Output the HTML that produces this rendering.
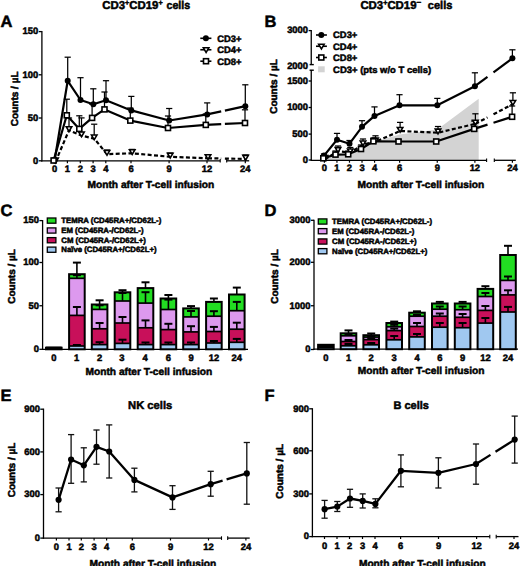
<!DOCTYPE html>
<html><head><meta charset="utf-8"><title>Figure</title>
<style>html,body{margin:0;padding:0;background:#fff;width:520px;height:566px;overflow:hidden}</style>
</head><body>
<svg width="520" height="566" viewBox="0 0 520 566" style="display:block">
<g font-family='"Liberation Sans", sans-serif' font-weight="bold" fill="#000">
<style>text{stroke:#000;stroke-width:0.5px;paint-order:stroke;text-rendering:geometricPrecision}</style>
<text x="0.50" y="27.00" font-size="16.5" text-anchor="start" >A</text>
<text x="102.3" y="8.9" font-size="11.4">CD3<tspan font-size="7.2" dy="-3.6">+</tspan><tspan dy="3.6">CD19</tspan><tspan font-size="7.2" dy="-3.6">+</tspan></text>
<text x="166.5" y="8.9" font-size="11.4" textLength="23.7" lengthAdjust="spacingAndGlyphs">cells</text>
<text x="0" y="0" font-size="10" text-anchor="middle" transform="translate(18.40,98.80) rotate(-90)">Counts / µL</text>
<line x1="41.90" y1="31.00" x2="41.90" y2="161.40" stroke="#000" stroke-width="1.3" />
<line x1="38.70" y1="31.60" x2="41.90" y2="31.60" stroke="#000" stroke-width="1.3" />
<text x="38.20" y="34.40" font-size="9.4" text-anchor="end" >150</text>
<line x1="38.70" y1="74.80" x2="41.90" y2="74.80" stroke="#000" stroke-width="1.3" />
<text x="38.20" y="77.60" font-size="9.4" text-anchor="end" >100</text>
<line x1="38.70" y1="118.00" x2="41.90" y2="118.00" stroke="#000" stroke-width="1.3" />
<text x="38.20" y="120.80" font-size="9.4" text-anchor="end" >50</text>
<line x1="38.70" y1="160.80" x2="41.90" y2="160.80" stroke="#000" stroke-width="1.3" />
<text x="38.20" y="163.60" font-size="9.4" text-anchor="end" >0</text>
<line x1="41.20" y1="160.80" x2="220.20" y2="160.80" stroke="#000" stroke-width="1.3" />
<line x1="226.70" y1="160.80" x2="249.20" y2="160.80" stroke="#000" stroke-width="1.3" />
<line x1="220.20" y1="159.00" x2="220.20" y2="162.60" stroke="#000" stroke-width="1.1" />
<line x1="226.70" y1="159.00" x2="226.70" y2="162.60" stroke="#000" stroke-width="1.1" />
<line x1="54.60" y1="160.80" x2="54.60" y2="163.20" stroke="#000" stroke-width="1.2" />
<text x="54.60" y="172.10" font-size="9.4" text-anchor="middle" >0</text>
<line x1="67.40" y1="160.80" x2="67.40" y2="163.20" stroke="#000" stroke-width="1.2" />
<text x="67.40" y="172.10" font-size="9.4" text-anchor="middle" >1</text>
<line x1="80.30" y1="160.80" x2="80.30" y2="163.20" stroke="#000" stroke-width="1.2" />
<text x="80.30" y="172.10" font-size="9.4" text-anchor="middle" >2</text>
<line x1="93.10" y1="160.80" x2="93.10" y2="163.20" stroke="#000" stroke-width="1.2" />
<text x="93.10" y="172.10" font-size="9.4" text-anchor="middle" >3</text>
<line x1="105.80" y1="160.80" x2="105.80" y2="163.20" stroke="#000" stroke-width="1.2" />
<text x="105.80" y="172.10" font-size="9.4" text-anchor="middle" >4</text>
<line x1="131.00" y1="160.80" x2="131.00" y2="163.20" stroke="#000" stroke-width="1.2" />
<text x="131.00" y="172.10" font-size="9.4" text-anchor="middle" >6</text>
<line x1="169.10" y1="160.80" x2="169.10" y2="163.20" stroke="#000" stroke-width="1.2" />
<text x="169.10" y="172.10" font-size="9.4" text-anchor="middle" >9</text>
<line x1="207.00" y1="160.80" x2="207.00" y2="163.20" stroke="#000" stroke-width="1.2" />
<text x="207.00" y="172.10" font-size="9.4" text-anchor="middle" >12</text>
<line x1="245.30" y1="160.80" x2="245.30" y2="163.20" stroke="#000" stroke-width="1.2" />
<text x="245.30" y="172.10" font-size="9.4" text-anchor="middle" >24</text>
<text x="150.90" y="187.90" font-size="10.2" text-anchor="middle" >Month after T-cell infusion</text>
<line x1="200.30" y1="38.30" x2="211.40" y2="38.30" stroke="#000" stroke-width="1.6" />
<circle cx="205.90" cy="38.30" r="3.0" fill="#000"/>
<text x="217.20" y="41.70" font-size="9.4" text-anchor="start" >CD3+</text>
<line x1="200.30" y1="49.75" x2="211.40" y2="49.75" stroke="#000" stroke-width="1.6" />
<polygon points="203.35,47.78 208.85,47.78 206.10,52.52" fill="#fff" stroke="#000" stroke-width="1.6" stroke-linejoin="miter"/>
<text x="217.20" y="53.15" font-size="9.4" text-anchor="start" >CD4+</text>
<line x1="200.30" y1="61.20" x2="211.40" y2="61.20" stroke="#000" stroke-width="1.6" />
<rect x="203.50" y="58.70" width="5.0" height="5.0" fill="#fff" stroke="#000" stroke-width="1.6"/>
<text x="217.20" y="64.60" font-size="9.4" text-anchor="start" >CD8+</text>
<line x1="67.70" y1="57.20" x2="67.70" y2="80.80" stroke="#000" stroke-width="1.25" />
<line x1="64.60" y1="57.20" x2="70.80" y2="57.20" stroke="#000" stroke-width="1.25" />
<line x1="80.50" y1="77.70" x2="80.50" y2="100.00" stroke="#000" stroke-width="1.25" />
<line x1="77.40" y1="77.70" x2="83.60" y2="77.70" stroke="#000" stroke-width="1.25" />
<line x1="93.30" y1="88.80" x2="93.30" y2="104.20" stroke="#000" stroke-width="1.25" />
<line x1="90.20" y1="88.80" x2="96.40" y2="88.80" stroke="#000" stroke-width="1.25" />
<line x1="106.00" y1="80.70" x2="106.00" y2="100.20" stroke="#000" stroke-width="1.25" />
<line x1="102.90" y1="80.70" x2="109.10" y2="80.70" stroke="#000" stroke-width="1.25" />
<line x1="131.30" y1="96.40" x2="131.30" y2="110.40" stroke="#000" stroke-width="1.25" />
<line x1="128.20" y1="96.40" x2="134.40" y2="96.40" stroke="#000" stroke-width="1.25" />
<line x1="169.20" y1="108.50" x2="169.20" y2="120.50" stroke="#000" stroke-width="1.25" />
<line x1="166.10" y1="108.50" x2="172.30" y2="108.50" stroke="#000" stroke-width="1.25" />
<line x1="207.20" y1="102.90" x2="207.20" y2="114.40" stroke="#000" stroke-width="1.25" />
<line x1="204.10" y1="102.90" x2="210.30" y2="102.90" stroke="#000" stroke-width="1.25" />
<line x1="245.30" y1="84.80" x2="245.30" y2="106.20" stroke="#000" stroke-width="1.25" />
<line x1="242.20" y1="84.80" x2="248.40" y2="84.80" stroke="#000" stroke-width="1.25" />
<line x1="66.80" y1="99.20" x2="66.80" y2="115.30" stroke="#000" stroke-width="1.25" />
<line x1="63.70" y1="99.20" x2="69.90" y2="99.20" stroke="#000" stroke-width="1.25" />
<line x1="79.30" y1="115.80" x2="79.30" y2="128.90" stroke="#000" stroke-width="1.25" />
<line x1="76.20" y1="115.80" x2="82.40" y2="115.80" stroke="#000" stroke-width="1.25" />
<line x1="92.10" y1="104.00" x2="92.10" y2="117.90" stroke="#000" stroke-width="1.25" />
<line x1="89.00" y1="104.00" x2="95.20" y2="104.00" stroke="#000" stroke-width="1.25" />
<line x1="104.50" y1="92.00" x2="104.50" y2="109.40" stroke="#000" stroke-width="1.25" />
<line x1="101.40" y1="92.00" x2="107.60" y2="92.00" stroke="#000" stroke-width="1.25" />
<line x1="130.30" y1="108.00" x2="130.30" y2="120.60" stroke="#000" stroke-width="1.25" />
<line x1="127.20" y1="108.00" x2="133.40" y2="108.00" stroke="#000" stroke-width="1.25" />
<line x1="168.00" y1="116.00" x2="168.00" y2="128.00" stroke="#000" stroke-width="1.25" />
<line x1="164.90" y1="116.00" x2="171.10" y2="116.00" stroke="#000" stroke-width="1.25" />
<line x1="205.80" y1="114.00" x2="205.80" y2="124.90" stroke="#000" stroke-width="1.25" />
<line x1="202.70" y1="114.00" x2="208.90" y2="114.00" stroke="#000" stroke-width="1.25" />
<line x1="245.00" y1="109.80" x2="245.00" y2="123.00" stroke="#000" stroke-width="1.25" />
<line x1="241.90" y1="109.80" x2="248.10" y2="109.80" stroke="#000" stroke-width="1.25" />
<line x1="69.00" y1="118.00" x2="69.00" y2="129.10" stroke="#000" stroke-width="1.25" />
<line x1="65.90" y1="118.00" x2="72.10" y2="118.00" stroke="#000" stroke-width="1.25" />
<line x1="81.50" y1="117.90" x2="81.50" y2="134.40" stroke="#000" stroke-width="1.25" />
<line x1="78.40" y1="117.90" x2="84.60" y2="117.90" stroke="#000" stroke-width="1.25" />
<line x1="94.20" y1="124.20" x2="94.20" y2="137.40" stroke="#000" stroke-width="1.25" />
<line x1="91.10" y1="124.20" x2="97.30" y2="124.20" stroke="#000" stroke-width="1.25" />
<line x1="107.00" y1="150.00" x2="107.00" y2="152.90" stroke="#000" stroke-width="1.25" />
<line x1="103.90" y1="150.00" x2="110.10" y2="150.00" stroke="#000" stroke-width="1.25" />
<line x1="132.20" y1="149.40" x2="132.20" y2="152.10" stroke="#000" stroke-width="1.25" />
<line x1="129.10" y1="149.40" x2="135.30" y2="149.40" stroke="#000" stroke-width="1.25" />
<line x1="170.20" y1="153.00" x2="170.20" y2="155.60" stroke="#000" stroke-width="1.25" />
<line x1="167.10" y1="153.00" x2="173.30" y2="153.00" stroke="#000" stroke-width="1.25" />
<line x1="208.00" y1="155.00" x2="208.00" y2="157.10" stroke="#000" stroke-width="1.25" />
<line x1="204.90" y1="155.00" x2="211.10" y2="155.00" stroke="#000" stroke-width="1.25" />
<line x1="245.60" y1="155.00" x2="245.60" y2="157.70" stroke="#000" stroke-width="1.25" />
<line x1="242.50" y1="155.00" x2="248.70" y2="155.00" stroke="#000" stroke-width="1.25" />
<polyline points="54.60,160.50 67.70,80.80 80.50,100.00 93.30,104.20 106.00,100.20 131.30,110.40 169.20,120.50 207.20,114.40" fill="none" stroke="#000" stroke-width="2.2" stroke-linejoin="round" />
<polyline points="207.20,114.40 221.20,111.39" fill="none" stroke="#000" stroke-width="2.2" stroke-linejoin="round" />
<polyline points="224.90,110.59 245.30,106.20" fill="none" stroke="#000" stroke-width="2.2" stroke-linejoin="round" />
<polyline points="53.60,160.50 66.80,115.30 79.30,128.90 92.10,117.90 104.50,109.40 130.30,120.60 168.00,128.00 205.80,124.90" fill="none" stroke="#000" stroke-width="2.2" stroke-linejoin="round" />
<polyline points="205.80,124.90 221.20,124.15" fill="none" stroke="#000" stroke-width="2.2" stroke-linejoin="round" />
<polyline points="224.90,123.97 245.00,123.00" fill="none" stroke="#000" stroke-width="2.2" stroke-linejoin="round" />
<polyline points="55.50,161.70 69.00,130.30 81.50,135.60 94.20,138.60 107.00,154.10 132.20,153.30 170.20,156.80 208.00,158.30" fill="none" stroke="#000" stroke-width="2.2" stroke-linejoin="round" stroke-dasharray="4,2.4"/>
<polyline points="208.00,158.30 221.20,158.51" fill="none" stroke="#000" stroke-width="2.2" stroke-linejoin="round" stroke-dasharray="4,2.4"/>
<polyline points="224.90,158.57 245.60,158.90" fill="none" stroke="#000" stroke-width="2.2" stroke-linejoin="round" stroke-dasharray="4,2.4"/>
<polygon points="52.75,158.13 58.25,158.13 55.50,162.87" fill="#fff" stroke="#000" stroke-width="1.6" stroke-linejoin="miter"/>
<polygon points="66.25,126.73 71.75,126.73 69.00,131.47" fill="#fff" stroke="#000" stroke-width="1.6" stroke-linejoin="miter"/>
<polygon points="78.75,132.03 84.25,132.03 81.50,136.77" fill="#fff" stroke="#000" stroke-width="1.6" stroke-linejoin="miter"/>
<polygon points="91.45,135.03 96.95,135.03 94.20,139.77" fill="#fff" stroke="#000" stroke-width="1.6" stroke-linejoin="miter"/>
<polygon points="104.25,150.53 109.75,150.53 107.00,155.27" fill="#fff" stroke="#000" stroke-width="1.6" stroke-linejoin="miter"/>
<polygon points="129.45,149.73 134.95,149.73 132.20,154.47" fill="#fff" stroke="#000" stroke-width="1.6" stroke-linejoin="miter"/>
<polygon points="167.45,153.23 172.95,153.23 170.20,157.97" fill="#fff" stroke="#000" stroke-width="1.6" stroke-linejoin="miter"/>
<polygon points="205.25,154.73 210.75,154.73 208.00,159.47" fill="#fff" stroke="#000" stroke-width="1.6" stroke-linejoin="miter"/>
<polygon points="242.85,155.33 248.35,155.33 245.60,160.06" fill="#fff" stroke="#000" stroke-width="1.6" stroke-linejoin="miter"/>
<circle cx="54.60" cy="160.50" r="3.0" fill="#000"/>
<circle cx="67.70" cy="80.80" r="3.0" fill="#000"/>
<circle cx="80.50" cy="100.00" r="3.0" fill="#000"/>
<circle cx="93.30" cy="104.20" r="3.0" fill="#000"/>
<circle cx="106.00" cy="100.20" r="3.0" fill="#000"/>
<circle cx="131.30" cy="110.40" r="3.0" fill="#000"/>
<circle cx="169.20" cy="120.50" r="3.0" fill="#000"/>
<circle cx="207.20" cy="114.40" r="3.0" fill="#000"/>
<circle cx="245.30" cy="106.20" r="3.0" fill="#000"/>
<rect x="51.10" y="158.00" width="5.0" height="5.0" fill="#fff" stroke="#000" stroke-width="1.6"/>
<rect x="64.30" y="112.80" width="5.0" height="5.0" fill="#fff" stroke="#000" stroke-width="1.6"/>
<rect x="76.80" y="126.40" width="5.0" height="5.0" fill="#fff" stroke="#000" stroke-width="1.6"/>
<rect x="89.60" y="115.40" width="5.0" height="5.0" fill="#fff" stroke="#000" stroke-width="1.6"/>
<rect x="102.00" y="106.90" width="5.0" height="5.0" fill="#fff" stroke="#000" stroke-width="1.6"/>
<rect x="127.80" y="118.10" width="5.0" height="5.0" fill="#fff" stroke="#000" stroke-width="1.6"/>
<rect x="165.50" y="125.50" width="5.0" height="5.0" fill="#fff" stroke="#000" stroke-width="1.6"/>
<rect x="203.30" y="122.40" width="5.0" height="5.0" fill="#fff" stroke="#000" stroke-width="1.6"/>
<rect x="242.50" y="120.50" width="5.0" height="5.0" fill="#fff" stroke="#000" stroke-width="1.6"/>
<text x="264.50" y="27.00" font-size="16.5" text-anchor="start" >B</text>
<text x="360.4" y="8.9" font-size="11.4">CD3<tspan font-size="7.2" dy="-3.6">+</tspan><tspan dy="3.6">CD19</tspan><tspan font-size="8" dy="-3.6">−</tspan></text>
<text x="427.8" y="8.9" font-size="11.4" textLength="24.6" lengthAdjust="spacingAndGlyphs">cells</text>
<text x="0" y="0" font-size="10" text-anchor="middle" transform="translate(277.30,86.50) rotate(-90)">Counts / µL</text>
<line x1="311.25" y1="30.00" x2="311.25" y2="64.80" stroke="#000" stroke-width="1.3" />
<line x1="311.25" y1="70.00" x2="311.25" y2="160.60" stroke="#000" stroke-width="1.3" />
<line x1="309.60" y1="64.60" x2="313.80" y2="64.60" stroke="#000" stroke-width="1.4" />
<line x1="309.60" y1="70.20" x2="313.80" y2="70.20" stroke="#000" stroke-width="1.4" />
<line x1="308.65" y1="30.60" x2="311.25" y2="30.60" stroke="#000" stroke-width="1.3" />
<text x="308.00" y="33.40" font-size="9.4" text-anchor="end" >3000</text>
<text x="308.00" y="68.60" font-size="9.4" text-anchor="end" >2000</text>
<line x1="308.65" y1="81.00" x2="311.25" y2="81.00" stroke="#000" stroke-width="1.3" />
<text x="308.00" y="83.80" font-size="9.4" text-anchor="end" >1500</text>
<line x1="308.65" y1="107.50" x2="311.25" y2="107.50" stroke="#000" stroke-width="1.3" />
<text x="308.00" y="110.30" font-size="9.4" text-anchor="end" >1000</text>
<line x1="308.65" y1="134.10" x2="311.25" y2="134.10" stroke="#000" stroke-width="1.3" />
<text x="308.00" y="136.90" font-size="9.4" text-anchor="end" >500</text>
<line x1="308.65" y1="160.00" x2="311.25" y2="160.00" stroke="#000" stroke-width="1.3" />
<text x="308.00" y="162.80" font-size="9.4" text-anchor="end" >0</text>
<polygon points="323.4,160.3 337,154.6 349.5,155 362,148.5 374.5,142 399.5,134.6 437.3,129.5 478.7,98.7 478.7,160.3" fill="#d3d3d3"/>
<line x1="310.60" y1="160.30" x2="486.60" y2="160.30" stroke="#000" stroke-width="1.3" />
<line x1="494.30" y1="160.30" x2="515.80" y2="160.30" stroke="#000" stroke-width="1.3" />
<line x1="486.60" y1="158.50" x2="486.60" y2="162.10" stroke="#000" stroke-width="1.1" />
<line x1="494.30" y1="158.50" x2="494.30" y2="162.10" stroke="#000" stroke-width="1.1" />
<line x1="324.40" y1="160.30" x2="324.40" y2="162.70" stroke="#000" stroke-width="1.2" />
<text x="324.40" y="171.40" font-size="9.4" text-anchor="middle" >0</text>
<line x1="336.94" y1="160.30" x2="336.94" y2="162.70" stroke="#000" stroke-width="1.2" />
<text x="336.94" y="171.40" font-size="9.4" text-anchor="middle" >1</text>
<line x1="349.48" y1="160.30" x2="349.48" y2="162.70" stroke="#000" stroke-width="1.2" />
<text x="349.48" y="171.40" font-size="9.4" text-anchor="middle" >2</text>
<line x1="362.02" y1="160.30" x2="362.02" y2="162.70" stroke="#000" stroke-width="1.2" />
<text x="362.02" y="171.40" font-size="9.4" text-anchor="middle" >3</text>
<line x1="374.56" y1="160.30" x2="374.56" y2="162.70" stroke="#000" stroke-width="1.2" />
<text x="374.56" y="171.40" font-size="9.4" text-anchor="middle" >4</text>
<line x1="399.64" y1="160.30" x2="399.64" y2="162.70" stroke="#000" stroke-width="1.2" />
<text x="399.64" y="171.40" font-size="9.4" text-anchor="middle" >6</text>
<line x1="437.26" y1="160.30" x2="437.26" y2="162.70" stroke="#000" stroke-width="1.2" />
<text x="437.26" y="171.40" font-size="9.4" text-anchor="middle" >9</text>
<line x1="474.88" y1="160.30" x2="474.88" y2="162.70" stroke="#000" stroke-width="1.2" />
<text x="474.88" y="171.40" font-size="9.4" text-anchor="middle" >12</text>
<line x1="512.40" y1="160.30" x2="512.40" y2="162.70" stroke="#000" stroke-width="1.2" />
<text x="512.40" y="171.40" font-size="9.4" text-anchor="middle" >24</text>
<text x="420.90" y="187.90" font-size="10.2" text-anchor="middle" >Month after T-cell infusion</text>
<line x1="316.00" y1="35.00" x2="326.90" y2="35.00" stroke="#000" stroke-width="1.6" />
<circle cx="321.30" cy="35.00" r="3.0" fill="#000"/>
<text x="333.10" y="38.40" font-size="9.4" text-anchor="start" >CD3+</text>
<line x1="316.00" y1="46.25" x2="326.90" y2="46.25" stroke="#000" stroke-width="1.6" />
<polygon points="318.65,44.28 324.15,44.28 321.40,49.02" fill="#fff" stroke="#000" stroke-width="1.6" stroke-linejoin="miter"/>
<text x="333.10" y="49.65" font-size="9.4" text-anchor="start" >CD4+</text>
<line x1="316.00" y1="57.50" x2="326.90" y2="57.50" stroke="#000" stroke-width="1.6" />
<rect x="318.80" y="55.00" width="5.0" height="5.0" fill="#fff" stroke="#000" stroke-width="1.6"/>
<text x="333.10" y="60.90" font-size="9.4" text-anchor="start" >CD8+</text>
<rect x="318.1" y="66.3" width="6.6" height="6" fill="#d3d3d3"/>
<text x="333.1" y="72.9" font-size="9.3" textLength="98" lengthAdjust="spacingAndGlyphs">CD3+ (pts w/o T cells)</text>
<line x1="324.00" y1="154.00" x2="324.00" y2="155.60" stroke="#000" stroke-width="1.25" />
<line x1="320.90" y1="154.00" x2="327.10" y2="154.00" stroke="#000" stroke-width="1.25" />
<line x1="337.00" y1="133.40" x2="337.00" y2="139.70" stroke="#000" stroke-width="1.25" />
<line x1="333.90" y1="133.40" x2="340.10" y2="133.40" stroke="#000" stroke-width="1.25" />
<line x1="349.50" y1="140.50" x2="349.50" y2="143.70" stroke="#000" stroke-width="1.25" />
<line x1="346.40" y1="140.50" x2="352.60" y2="140.50" stroke="#000" stroke-width="1.25" />
<line x1="362.00" y1="120.70" x2="362.00" y2="126.80" stroke="#000" stroke-width="1.25" />
<line x1="358.90" y1="120.70" x2="365.10" y2="120.70" stroke="#000" stroke-width="1.25" />
<line x1="374.50" y1="106.90" x2="374.50" y2="115.90" stroke="#000" stroke-width="1.25" />
<line x1="371.40" y1="106.90" x2="377.60" y2="106.90" stroke="#000" stroke-width="1.25" />
<line x1="399.50" y1="94.70" x2="399.50" y2="105.30" stroke="#000" stroke-width="1.25" />
<line x1="396.40" y1="94.70" x2="402.60" y2="94.70" stroke="#000" stroke-width="1.25" />
<line x1="437.30" y1="98.40" x2="437.30" y2="105.30" stroke="#000" stroke-width="1.25" />
<line x1="434.20" y1="98.40" x2="440.40" y2="98.40" stroke="#000" stroke-width="1.25" />
<line x1="474.90" y1="72.80" x2="474.90" y2="86.20" stroke="#000" stroke-width="1.25" />
<line x1="471.80" y1="72.80" x2="478.00" y2="72.80" stroke="#000" stroke-width="1.25" />
<line x1="512.40" y1="49.80" x2="512.40" y2="58.30" stroke="#000" stroke-width="1.25" />
<line x1="509.30" y1="49.80" x2="515.50" y2="49.80" stroke="#000" stroke-width="1.25" />
<line x1="323.30" y1="157.00" x2="323.30" y2="158.30" stroke="#000" stroke-width="1.25" />
<line x1="320.20" y1="157.00" x2="326.40" y2="157.00" stroke="#000" stroke-width="1.25" />
<line x1="335.50" y1="151.00" x2="335.50" y2="154.60" stroke="#000" stroke-width="1.25" />
<line x1="332.40" y1="151.00" x2="338.60" y2="151.00" stroke="#000" stroke-width="1.25" />
<line x1="348.20" y1="151.00" x2="348.20" y2="154.30" stroke="#000" stroke-width="1.25" />
<line x1="345.10" y1="151.00" x2="351.30" y2="151.00" stroke="#000" stroke-width="1.25" />
<line x1="361.00" y1="145.00" x2="361.00" y2="149.00" stroke="#000" stroke-width="1.25" />
<line x1="357.90" y1="145.00" x2="364.10" y2="145.00" stroke="#000" stroke-width="1.25" />
<line x1="373.40" y1="138.00" x2="373.40" y2="141.30" stroke="#000" stroke-width="1.25" />
<line x1="370.30" y1="138.00" x2="376.50" y2="138.00" stroke="#000" stroke-width="1.25" />
<line x1="398.50" y1="139.50" x2="398.50" y2="141.50" stroke="#000" stroke-width="1.25" />
<line x1="395.40" y1="139.50" x2="401.60" y2="139.50" stroke="#000" stroke-width="1.25" />
<line x1="436.20" y1="139.50" x2="436.20" y2="141.50" stroke="#000" stroke-width="1.25" />
<line x1="433.10" y1="139.50" x2="439.30" y2="139.50" stroke="#000" stroke-width="1.25" />
<line x1="474.20" y1="121.00" x2="474.20" y2="128.90" stroke="#000" stroke-width="1.25" />
<line x1="471.10" y1="121.00" x2="477.30" y2="121.00" stroke="#000" stroke-width="1.25" />
<line x1="512.10" y1="106.00" x2="512.10" y2="116.80" stroke="#000" stroke-width="1.25" />
<line x1="509.00" y1="106.00" x2="515.20" y2="106.00" stroke="#000" stroke-width="1.25" />
<line x1="325.00" y1="156.00" x2="325.00" y2="158.00" stroke="#000" stroke-width="1.25" />
<line x1="321.90" y1="156.00" x2="328.10" y2="156.00" stroke="#000" stroke-width="1.25" />
<line x1="338.00" y1="146.00" x2="338.00" y2="150.00" stroke="#000" stroke-width="1.25" />
<line x1="334.90" y1="146.00" x2="341.10" y2="146.00" stroke="#000" stroke-width="1.25" />
<line x1="350.30" y1="147.50" x2="350.30" y2="151.30" stroke="#000" stroke-width="1.25" />
<line x1="347.20" y1="147.50" x2="353.40" y2="147.50" stroke="#000" stroke-width="1.25" />
<line x1="363.00" y1="139.00" x2="363.00" y2="143.40" stroke="#000" stroke-width="1.25" />
<line x1="359.90" y1="139.00" x2="366.10" y2="139.00" stroke="#000" stroke-width="1.25" />
<line x1="375.50" y1="135.80" x2="375.50" y2="140.50" stroke="#000" stroke-width="1.25" />
<line x1="372.40" y1="135.80" x2="378.60" y2="135.80" stroke="#000" stroke-width="1.25" />
<line x1="400.10" y1="122.40" x2="400.10" y2="129.80" stroke="#000" stroke-width="1.25" />
<line x1="397.00" y1="122.40" x2="403.20" y2="122.40" stroke="#000" stroke-width="1.25" />
<line x1="438.00" y1="126.50" x2="438.00" y2="131.50" stroke="#000" stroke-width="1.25" />
<line x1="434.90" y1="126.50" x2="441.10" y2="126.50" stroke="#000" stroke-width="1.25" />
<line x1="475.40" y1="113.80" x2="475.40" y2="122.60" stroke="#000" stroke-width="1.25" />
<line x1="472.30" y1="113.80" x2="478.50" y2="113.80" stroke="#000" stroke-width="1.25" />
<line x1="512.90" y1="92.80" x2="512.90" y2="102.90" stroke="#000" stroke-width="1.25" />
<line x1="509.80" y1="92.80" x2="516.00" y2="92.80" stroke="#000" stroke-width="1.25" />
<polyline points="324.00,155.60 337.00,139.70 349.50,143.70 362.00,126.80 374.50,115.90 399.50,105.30 437.30,105.30 474.90,86.20" fill="none" stroke="#000" stroke-width="2.2" stroke-linejoin="round" />
<polyline points="474.90,86.20 487.50,76.83" fill="none" stroke="#000" stroke-width="2.2" stroke-linejoin="round" />
<polyline points="493.50,72.36 512.40,58.30" fill="none" stroke="#000" stroke-width="2.2" stroke-linejoin="round" />
<polyline points="323.30,158.30 335.50,154.60 348.20,154.30 361.00,149.00 373.40,141.30 398.50,141.50 436.20,141.50 474.20,128.90" fill="none" stroke="#000" stroke-width="2.2" stroke-linejoin="round" />
<polyline points="474.20,128.90 487.50,124.65" fill="none" stroke="#000" stroke-width="2.2" stroke-linejoin="round" />
<polyline points="493.50,122.74 512.10,116.80" fill="none" stroke="#000" stroke-width="2.2" stroke-linejoin="round" />
<polyline points="325.00,159.20 338.00,151.20 350.30,152.50 363.00,144.60 375.50,141.70 400.10,131.00 438.00,132.70 475.40,123.80" fill="none" stroke="#000" stroke-width="2.2" stroke-linejoin="round" stroke-dasharray="4,2.4"/>
<polyline points="475.40,123.80 487.50,117.44" fill="none" stroke="#000" stroke-width="2.2" stroke-linejoin="round" stroke-dasharray="4,2.4"/>
<polyline points="493.50,114.29 512.90,104.10" fill="none" stroke="#000" stroke-width="2.2" stroke-linejoin="round" stroke-dasharray="4,2.4"/>
<polygon points="322.25,155.63 327.75,155.63 325.00,160.37" fill="#fff" stroke="#000" stroke-width="1.6" stroke-linejoin="miter"/>
<polygon points="335.25,147.63 340.75,147.63 338.00,152.37" fill="#fff" stroke="#000" stroke-width="1.6" stroke-linejoin="miter"/>
<polygon points="347.55,148.94 353.05,148.94 350.30,153.67" fill="#fff" stroke="#000" stroke-width="1.6" stroke-linejoin="miter"/>
<polygon points="360.25,141.03 365.75,141.03 363.00,145.77" fill="#fff" stroke="#000" stroke-width="1.6" stroke-linejoin="miter"/>
<polygon points="372.75,138.13 378.25,138.13 375.50,142.87" fill="#fff" stroke="#000" stroke-width="1.6" stroke-linejoin="miter"/>
<polygon points="397.35,127.44 402.85,127.44 400.10,132.17" fill="#fff" stroke="#000" stroke-width="1.6" stroke-linejoin="miter"/>
<polygon points="435.25,129.13 440.75,129.13 438.00,133.87" fill="#fff" stroke="#000" stroke-width="1.6" stroke-linejoin="miter"/>
<polygon points="472.65,120.23 478.15,120.23 475.40,124.96" fill="#fff" stroke="#000" stroke-width="1.6" stroke-linejoin="miter"/>
<polygon points="510.15,100.54 515.65,100.54 512.90,105.27" fill="#fff" stroke="#000" stroke-width="1.6" stroke-linejoin="miter"/>
<circle cx="324.00" cy="155.60" r="3.0" fill="#000"/>
<circle cx="337.00" cy="139.70" r="3.0" fill="#000"/>
<circle cx="349.50" cy="143.70" r="3.0" fill="#000"/>
<circle cx="362.00" cy="126.80" r="3.0" fill="#000"/>
<circle cx="374.50" cy="115.90" r="3.0" fill="#000"/>
<circle cx="399.50" cy="105.30" r="3.0" fill="#000"/>
<circle cx="437.30" cy="105.30" r="3.0" fill="#000"/>
<circle cx="474.90" cy="86.20" r="3.0" fill="#000"/>
<circle cx="512.40" cy="58.30" r="3.0" fill="#000"/>
<rect x="320.80" y="155.80" width="5.0" height="5.0" fill="#fff" stroke="#000" stroke-width="1.6"/>
<rect x="333.00" y="152.10" width="5.0" height="5.0" fill="#fff" stroke="#000" stroke-width="1.6"/>
<rect x="345.70" y="151.80" width="5.0" height="5.0" fill="#fff" stroke="#000" stroke-width="1.6"/>
<rect x="358.50" y="146.50" width="5.0" height="5.0" fill="#fff" stroke="#000" stroke-width="1.6"/>
<rect x="370.90" y="138.80" width="5.0" height="5.0" fill="#fff" stroke="#000" stroke-width="1.6"/>
<rect x="396.00" y="139.00" width="5.0" height="5.0" fill="#fff" stroke="#000" stroke-width="1.6"/>
<rect x="433.70" y="139.00" width="5.0" height="5.0" fill="#fff" stroke="#000" stroke-width="1.6"/>
<rect x="471.70" y="126.40" width="5.0" height="5.0" fill="#fff" stroke="#000" stroke-width="1.6"/>
<rect x="509.60" y="114.30" width="5.0" height="5.0" fill="#fff" stroke="#000" stroke-width="1.6"/>
<text x="0.50" y="216.30" font-size="16.5" text-anchor="start" >C</text>
<text x="0" y="0" font-size="10" text-anchor="middle" transform="translate(15.30,276.40) rotate(-90)">Counts / µL</text>
<line x1="42.60" y1="220.00" x2="42.60" y2="349.90" stroke="#000" stroke-width="1.3" />
<line x1="39.40" y1="220.60" x2="42.60" y2="220.60" stroke="#000" stroke-width="1.3" />
<text x="39.00" y="223.40" font-size="9.4" text-anchor="end" >150</text>
<line x1="39.40" y1="262.50" x2="42.60" y2="262.50" stroke="#000" stroke-width="1.3" />
<text x="39.00" y="265.30" font-size="9.4" text-anchor="end" >100</text>
<line x1="39.40" y1="305.75" x2="42.60" y2="305.75" stroke="#000" stroke-width="1.3" />
<text x="39.00" y="308.55" font-size="9.4" text-anchor="end" >50</text>
<line x1="39.40" y1="349.30" x2="42.60" y2="349.30" stroke="#000" stroke-width="1.3" />
<text x="39.00" y="352.10" font-size="9.4" text-anchor="end" >0</text>
<line x1="42.00" y1="349.30" x2="248.00" y2="349.30" stroke="#000" stroke-width="1.3" />
<line x1="53.80" y1="349.30" x2="53.80" y2="349.31" stroke="#000" stroke-width="1.2" />
<text x="53.80" y="360.90" font-size="9.4" text-anchor="middle" >0</text>
<line x1="76.50" y1="349.30" x2="76.50" y2="349.31" stroke="#000" stroke-width="1.2" />
<text x="76.50" y="360.90" font-size="9.4" text-anchor="middle" >1</text>
<line x1="99.50" y1="349.30" x2="99.50" y2="349.31" stroke="#000" stroke-width="1.2" />
<text x="99.50" y="360.90" font-size="9.4" text-anchor="middle" >2</text>
<line x1="121.90" y1="349.30" x2="121.90" y2="349.31" stroke="#000" stroke-width="1.2" />
<text x="121.90" y="360.90" font-size="9.4" text-anchor="middle" >3</text>
<line x1="145.00" y1="349.30" x2="145.00" y2="349.31" stroke="#000" stroke-width="1.2" />
<text x="145.00" y="360.90" font-size="9.4" text-anchor="middle" >4</text>
<line x1="168.40" y1="349.30" x2="168.40" y2="349.31" stroke="#000" stroke-width="1.2" />
<text x="168.40" y="360.90" font-size="9.4" text-anchor="middle" >6</text>
<line x1="191.00" y1="349.30" x2="191.00" y2="349.31" stroke="#000" stroke-width="1.2" />
<text x="191.00" y="360.90" font-size="9.4" text-anchor="middle" >9</text>
<line x1="213.90" y1="349.30" x2="213.90" y2="349.31" stroke="#000" stroke-width="1.2" />
<text x="213.90" y="360.90" font-size="9.4" text-anchor="middle" >12</text>
<line x1="236.80" y1="349.30" x2="236.80" y2="349.31" stroke="#000" stroke-width="1.2" />
<text x="236.80" y="360.90" font-size="9.4" text-anchor="middle" >24</text>
<text x="148.90" y="375.00" font-size="10.2" text-anchor="middle" >Month after T-cell infusion</text>
<rect x="47.30" y="218.00" width="8.6" height="5.2" fill="#22dd22" stroke="#000" stroke-width="1.3"/>
<text x="61.25" y="222.90" font-size="7.8" text-anchor="start" >TEMRA (CD45RA+/CD62L-)</text>
<rect x="47.30" y="227.90" width="8.6" height="5.2" fill="#dd99ee" stroke="#000" stroke-width="1.3"/>
<text x="61.25" y="232.80" font-size="7.8" text-anchor="start" >EM (CD45RA-/CD62L-)</text>
<rect x="47.30" y="237.60" width="8.6" height="5.2" fill="#c8105a" stroke="#000" stroke-width="1.3"/>
<text x="61.25" y="242.50" font-size="7.8" text-anchor="start" >CM (CD45RA-/CD62L+)</text>
<rect x="47.30" y="247.10" width="8.6" height="5.2" fill="#a0c8f0" stroke="#000" stroke-width="1.3"/>
<text x="61.25" y="252.00" font-size="7.8" text-anchor="start" >Naïve (CD45RA+/CD62L+)</text>
<rect x="46.00" y="347.70" width="15.60" height="1.60" fill="#a0c8f0"/>
<line x1="46.00" y1="347.70" x2="61.60" y2="347.70" stroke="#000" stroke-width="1.7" />
<line x1="46.00" y1="347.70" x2="61.60" y2="347.70" stroke="#000" stroke-width="1.7" />
<line x1="46.00" y1="347.70" x2="61.60" y2="347.70" stroke="#000" stroke-width="1.7" />
<rect x="46.00" y="347.70" width="15.60" height="1.60" fill="none" stroke="#000" stroke-width="2"/>
<rect x="69.10" y="274.20" width="15.60" height="4.10" fill="#22dd22"/>
<rect x="69.10" y="278.30" width="15.60" height="37.10" fill="#dd99ee"/>
<rect x="69.10" y="315.40" width="15.60" height="30.60" fill="#c8105a"/>
<rect x="69.10" y="346.00" width="15.60" height="3.30" fill="#a0c8f0"/>
<line x1="69.10" y1="278.30" x2="84.70" y2="278.30" stroke="#000" stroke-width="1.7" />
<line x1="69.10" y1="315.40" x2="84.70" y2="315.40" stroke="#000" stroke-width="1.7" />
<line x1="69.10" y1="346.00" x2="84.70" y2="346.00" stroke="#000" stroke-width="1.7" />
<rect x="69.10" y="274.20" width="15.60" height="75.10" fill="none" stroke="#000" stroke-width="2"/>
<line x1="76.90" y1="262.60" x2="76.90" y2="274.20" stroke="#000" stroke-width="1.6" />
<line x1="72.90" y1="262.60" x2="80.90" y2="262.60" stroke="#000" stroke-width="2.0" />
<line x1="76.90" y1="275.20" x2="76.90" y2="278.30" stroke="#000" stroke-width="1.6" />
<line x1="72.90" y1="275.20" x2="80.90" y2="275.20" stroke="#000" stroke-width="2.0" />
<line x1="76.90" y1="307.00" x2="76.90" y2="315.40" stroke="#000" stroke-width="1.6" />
<line x1="72.90" y1="307.00" x2="80.90" y2="307.00" stroke="#000" stroke-width="2.0" />
<line x1="76.90" y1="345.00" x2="76.90" y2="346.00" stroke="#000" stroke-width="1.6" />
<line x1="72.90" y1="345.00" x2="80.90" y2="345.00" stroke="#000" stroke-width="2.0" />
<rect x="91.80" y="304.50" width="15.60" height="4.90" fill="#22dd22"/>
<rect x="91.80" y="309.40" width="15.60" height="19.40" fill="#dd99ee"/>
<rect x="91.80" y="328.80" width="15.60" height="15.80" fill="#c8105a"/>
<rect x="91.80" y="344.60" width="15.60" height="4.70" fill="#a0c8f0"/>
<line x1="91.80" y1="309.40" x2="107.40" y2="309.40" stroke="#000" stroke-width="1.7" />
<line x1="91.80" y1="328.80" x2="107.40" y2="328.80" stroke="#000" stroke-width="1.7" />
<line x1="91.80" y1="344.60" x2="107.40" y2="344.60" stroke="#000" stroke-width="1.7" />
<rect x="91.80" y="304.50" width="15.60" height="44.80" fill="none" stroke="#000" stroke-width="2"/>
<line x1="99.60" y1="300.30" x2="99.60" y2="304.50" stroke="#000" stroke-width="1.6" />
<line x1="95.60" y1="300.30" x2="103.60" y2="300.30" stroke="#000" stroke-width="2.0" />
<line x1="99.60" y1="305.30" x2="99.60" y2="309.40" stroke="#000" stroke-width="1.6" />
<line x1="95.60" y1="305.30" x2="103.60" y2="305.30" stroke="#000" stroke-width="2.0" />
<line x1="99.60" y1="323.00" x2="99.60" y2="328.80" stroke="#000" stroke-width="1.6" />
<line x1="95.60" y1="323.00" x2="103.60" y2="323.00" stroke="#000" stroke-width="2.0" />
<line x1="99.60" y1="342.20" x2="99.60" y2="344.60" stroke="#000" stroke-width="1.6" />
<line x1="95.60" y1="342.20" x2="103.60" y2="342.20" stroke="#000" stroke-width="2.0" />
<rect x="114.70" y="292.30" width="15.60" height="8.70" fill="#22dd22"/>
<rect x="114.70" y="301.00" width="15.60" height="22.00" fill="#dd99ee"/>
<rect x="114.70" y="323.00" width="15.60" height="20.40" fill="#c8105a"/>
<rect x="114.70" y="343.40" width="15.60" height="5.90" fill="#a0c8f0"/>
<line x1="114.70" y1="301.00" x2="130.30" y2="301.00" stroke="#000" stroke-width="1.7" />
<line x1="114.70" y1="323.00" x2="130.30" y2="323.00" stroke="#000" stroke-width="1.7" />
<line x1="114.70" y1="343.40" x2="130.30" y2="343.40" stroke="#000" stroke-width="1.7" />
<rect x="114.70" y="292.30" width="15.60" height="57.00" fill="none" stroke="#000" stroke-width="2"/>
<line x1="122.50" y1="290.20" x2="122.50" y2="292.30" stroke="#000" stroke-width="1.6" />
<line x1="118.50" y1="290.20" x2="126.50" y2="290.20" stroke="#000" stroke-width="2.0" />
<line x1="122.50" y1="293.00" x2="122.50" y2="301.00" stroke="#000" stroke-width="1.6" />
<line x1="118.50" y1="293.00" x2="126.50" y2="293.00" stroke="#000" stroke-width="2.0" />
<line x1="122.50" y1="317.00" x2="122.50" y2="323.00" stroke="#000" stroke-width="1.6" />
<line x1="118.50" y1="317.00" x2="126.50" y2="317.00" stroke="#000" stroke-width="2.0" />
<line x1="122.50" y1="339.70" x2="122.50" y2="343.40" stroke="#000" stroke-width="1.6" />
<line x1="118.50" y1="339.70" x2="126.50" y2="339.70" stroke="#000" stroke-width="2.0" />
<rect x="137.70" y="288.10" width="15.60" height="15.00" fill="#22dd22"/>
<rect x="137.70" y="303.10" width="15.60" height="24.70" fill="#dd99ee"/>
<rect x="137.70" y="327.80" width="15.60" height="16.80" fill="#c8105a"/>
<rect x="137.70" y="344.60" width="15.60" height="4.70" fill="#a0c8f0"/>
<line x1="137.70" y1="303.10" x2="153.30" y2="303.10" stroke="#000" stroke-width="1.7" />
<line x1="137.70" y1="327.80" x2="153.30" y2="327.80" stroke="#000" stroke-width="1.7" />
<line x1="137.70" y1="344.60" x2="153.30" y2="344.60" stroke="#000" stroke-width="1.7" />
<rect x="137.70" y="288.10" width="15.60" height="61.20" fill="none" stroke="#000" stroke-width="2"/>
<line x1="145.50" y1="282.30" x2="145.50" y2="288.10" stroke="#000" stroke-width="1.6" />
<line x1="141.50" y1="282.30" x2="149.50" y2="282.30" stroke="#000" stroke-width="2.0" />
<line x1="145.50" y1="292.20" x2="145.50" y2="303.10" stroke="#000" stroke-width="1.6" />
<line x1="141.50" y1="292.20" x2="149.50" y2="292.20" stroke="#000" stroke-width="2.0" />
<line x1="145.50" y1="320.40" x2="145.50" y2="327.80" stroke="#000" stroke-width="1.6" />
<line x1="141.50" y1="320.40" x2="149.50" y2="320.40" stroke="#000" stroke-width="2.0" />
<line x1="145.50" y1="342.50" x2="145.50" y2="344.60" stroke="#000" stroke-width="1.6" />
<line x1="141.50" y1="342.50" x2="149.50" y2="342.50" stroke="#000" stroke-width="2.0" />
<rect x="160.60" y="298.50" width="15.60" height="11.00" fill="#22dd22"/>
<rect x="160.60" y="309.50" width="15.60" height="20.10" fill="#dd99ee"/>
<rect x="160.60" y="329.60" width="15.60" height="15.00" fill="#c8105a"/>
<rect x="160.60" y="344.60" width="15.60" height="4.70" fill="#a0c8f0"/>
<line x1="160.60" y1="309.50" x2="176.20" y2="309.50" stroke="#000" stroke-width="1.7" />
<line x1="160.60" y1="329.60" x2="176.20" y2="329.60" stroke="#000" stroke-width="1.7" />
<line x1="160.60" y1="344.60" x2="176.20" y2="344.60" stroke="#000" stroke-width="1.7" />
<rect x="160.60" y="298.50" width="15.60" height="50.80" fill="none" stroke="#000" stroke-width="2"/>
<line x1="168.40" y1="295.00" x2="168.40" y2="298.50" stroke="#000" stroke-width="1.6" />
<line x1="164.40" y1="295.00" x2="172.40" y2="295.00" stroke="#000" stroke-width="2.0" />
<line x1="168.40" y1="299.60" x2="168.40" y2="309.50" stroke="#000" stroke-width="1.6" />
<line x1="164.40" y1="299.60" x2="172.40" y2="299.60" stroke="#000" stroke-width="2.0" />
<line x1="168.40" y1="323.80" x2="168.40" y2="329.60" stroke="#000" stroke-width="1.6" />
<line x1="164.40" y1="323.80" x2="172.40" y2="323.80" stroke="#000" stroke-width="2.0" />
<line x1="168.40" y1="342.50" x2="168.40" y2="344.60" stroke="#000" stroke-width="1.6" />
<line x1="164.40" y1="342.50" x2="172.40" y2="342.50" stroke="#000" stroke-width="2.0" />
<rect x="183.20" y="308.40" width="15.60" height="8.50" fill="#22dd22"/>
<rect x="183.20" y="316.90" width="15.60" height="15.00" fill="#dd99ee"/>
<rect x="183.20" y="331.90" width="15.60" height="12.70" fill="#c8105a"/>
<rect x="183.20" y="344.60" width="15.60" height="4.70" fill="#a0c8f0"/>
<line x1="183.20" y1="316.90" x2="198.80" y2="316.90" stroke="#000" stroke-width="1.7" />
<line x1="183.20" y1="331.90" x2="198.80" y2="331.90" stroke="#000" stroke-width="1.7" />
<line x1="183.20" y1="344.60" x2="198.80" y2="344.60" stroke="#000" stroke-width="1.7" />
<rect x="183.20" y="308.40" width="15.60" height="40.90" fill="none" stroke="#000" stroke-width="2"/>
<line x1="191.00" y1="306.10" x2="191.00" y2="308.40" stroke="#000" stroke-width="1.6" />
<line x1="187.00" y1="306.10" x2="195.00" y2="306.10" stroke="#000" stroke-width="2.0" />
<line x1="191.00" y1="311.00" x2="191.00" y2="316.90" stroke="#000" stroke-width="1.6" />
<line x1="187.00" y1="311.00" x2="195.00" y2="311.00" stroke="#000" stroke-width="2.0" />
<line x1="191.00" y1="326.20" x2="191.00" y2="331.90" stroke="#000" stroke-width="1.6" />
<line x1="187.00" y1="326.20" x2="195.00" y2="326.20" stroke="#000" stroke-width="2.0" />
<line x1="191.00" y1="342.50" x2="191.00" y2="344.60" stroke="#000" stroke-width="1.6" />
<line x1="187.00" y1="342.50" x2="195.00" y2="342.50" stroke="#000" stroke-width="2.0" />
<rect x="206.10" y="301.90" width="15.60" height="14.30" fill="#22dd22"/>
<rect x="206.10" y="316.20" width="15.60" height="15.30" fill="#dd99ee"/>
<rect x="206.10" y="331.50" width="15.60" height="11.50" fill="#c8105a"/>
<rect x="206.10" y="343.00" width="15.60" height="6.30" fill="#a0c8f0"/>
<line x1="206.10" y1="316.20" x2="221.70" y2="316.20" stroke="#000" stroke-width="1.7" />
<line x1="206.10" y1="331.50" x2="221.70" y2="331.50" stroke="#000" stroke-width="1.7" />
<line x1="206.10" y1="343.00" x2="221.70" y2="343.00" stroke="#000" stroke-width="1.7" />
<rect x="206.10" y="301.90" width="15.60" height="47.40" fill="none" stroke="#000" stroke-width="2"/>
<line x1="213.90" y1="298.50" x2="213.90" y2="301.90" stroke="#000" stroke-width="1.6" />
<line x1="209.90" y1="298.50" x2="217.90" y2="298.50" stroke="#000" stroke-width="2.0" />
<line x1="213.90" y1="311.20" x2="213.90" y2="316.20" stroke="#000" stroke-width="1.6" />
<line x1="209.90" y1="311.20" x2="217.90" y2="311.20" stroke="#000" stroke-width="2.0" />
<line x1="213.90" y1="326.90" x2="213.90" y2="331.50" stroke="#000" stroke-width="1.6" />
<line x1="209.90" y1="326.90" x2="217.90" y2="326.90" stroke="#000" stroke-width="2.0" />
<line x1="213.90" y1="341.00" x2="213.90" y2="343.00" stroke="#000" stroke-width="1.6" />
<line x1="209.90" y1="341.00" x2="217.90" y2="341.00" stroke="#000" stroke-width="2.0" />
<rect x="229.00" y="294.50" width="15.60" height="16.20" fill="#22dd22"/>
<rect x="229.00" y="310.70" width="15.60" height="18.50" fill="#dd99ee"/>
<rect x="229.00" y="329.20" width="15.60" height="13.10" fill="#c8105a"/>
<rect x="229.00" y="342.30" width="15.60" height="7.00" fill="#a0c8f0"/>
<line x1="229.00" y1="310.70" x2="244.60" y2="310.70" stroke="#000" stroke-width="1.7" />
<line x1="229.00" y1="329.20" x2="244.60" y2="329.20" stroke="#000" stroke-width="1.7" />
<line x1="229.00" y1="342.30" x2="244.60" y2="342.30" stroke="#000" stroke-width="1.7" />
<rect x="229.00" y="294.50" width="15.60" height="54.80" fill="none" stroke="#000" stroke-width="2"/>
<line x1="236.80" y1="287.60" x2="236.80" y2="294.50" stroke="#000" stroke-width="1.6" />
<line x1="232.80" y1="287.60" x2="240.80" y2="287.60" stroke="#000" stroke-width="2.0" />
<line x1="236.80" y1="301.90" x2="236.80" y2="310.70" stroke="#000" stroke-width="1.6" />
<line x1="232.80" y1="301.90" x2="240.80" y2="301.90" stroke="#000" stroke-width="2.0" />
<line x1="236.80" y1="322.70" x2="236.80" y2="329.20" stroke="#000" stroke-width="1.6" />
<line x1="232.80" y1="322.70" x2="240.80" y2="322.70" stroke="#000" stroke-width="2.0" />
<line x1="236.80" y1="338.90" x2="236.80" y2="342.30" stroke="#000" stroke-width="1.6" />
<line x1="232.80" y1="338.90" x2="240.80" y2="338.90" stroke="#000" stroke-width="2.0" />
<text x="264.50" y="216.30" font-size="16.5" text-anchor="start" >D</text>
<text x="0" y="0" font-size="10" text-anchor="middle" transform="translate(277.50,276.50) rotate(-90)">Counts / µL</text>
<line x1="314.00" y1="219.70" x2="314.00" y2="350.10" stroke="#000" stroke-width="1.3" />
<line x1="310.80" y1="220.30" x2="314.00" y2="220.30" stroke="#000" stroke-width="1.3" />
<text x="310.40" y="223.10" font-size="9.4" text-anchor="end" >3000</text>
<line x1="310.80" y1="262.30" x2="314.00" y2="262.30" stroke="#000" stroke-width="1.3" />
<text x="310.40" y="265.10" font-size="9.4" text-anchor="end" >2000</text>
<line x1="310.80" y1="305.75" x2="314.00" y2="305.75" stroke="#000" stroke-width="1.3" />
<text x="310.40" y="308.55" font-size="9.4" text-anchor="end" >1000</text>
<line x1="310.80" y1="349.50" x2="314.00" y2="349.50" stroke="#000" stroke-width="1.3" />
<text x="310.40" y="352.30" font-size="9.4" text-anchor="end" >0</text>
<line x1="313.40" y1="349.20" x2="518.00" y2="349.20" stroke="#000" stroke-width="1.3" />
<line x1="325.90" y1="349.20" x2="325.90" y2="349.21" stroke="#000" stroke-width="1.2" />
<text x="325.90" y="360.90" font-size="9.4" text-anchor="middle" >0</text>
<line x1="348.50" y1="349.20" x2="348.50" y2="349.21" stroke="#000" stroke-width="1.2" />
<text x="348.50" y="360.90" font-size="9.4" text-anchor="middle" >1</text>
<line x1="371.20" y1="349.20" x2="371.20" y2="349.21" stroke="#000" stroke-width="1.2" />
<text x="371.20" y="360.90" font-size="9.4" text-anchor="middle" >2</text>
<line x1="394.20" y1="349.20" x2="394.20" y2="349.21" stroke="#000" stroke-width="1.2" />
<text x="394.20" y="360.90" font-size="9.4" text-anchor="middle" >3</text>
<line x1="417.00" y1="349.20" x2="417.00" y2="349.21" stroke="#000" stroke-width="1.2" />
<text x="417.00" y="360.90" font-size="9.4" text-anchor="middle" >4</text>
<line x1="439.80" y1="349.20" x2="439.80" y2="349.21" stroke="#000" stroke-width="1.2" />
<text x="439.80" y="360.90" font-size="9.4" text-anchor="middle" >6</text>
<line x1="462.60" y1="349.20" x2="462.60" y2="349.21" stroke="#000" stroke-width="1.2" />
<text x="462.60" y="360.90" font-size="9.4" text-anchor="middle" >9</text>
<line x1="485.40" y1="349.20" x2="485.40" y2="349.21" stroke="#000" stroke-width="1.2" />
<text x="485.40" y="360.90" font-size="9.4" text-anchor="middle" >12</text>
<line x1="508.00" y1="349.20" x2="508.00" y2="349.21" stroke="#000" stroke-width="1.2" />
<text x="508.00" y="360.90" font-size="9.4" text-anchor="middle" >24</text>
<text x="421.10" y="373.90" font-size="10.2" text-anchor="middle" >Month after T-cell infusion</text>
<rect x="318.30" y="218.90" width="8.6" height="5.2" fill="#22dd22" stroke="#000" stroke-width="1.3"/>
<text x="332.00" y="223.80" font-size="7.8" text-anchor="start" >TEMRA (CD45RA+/CD62L-)</text>
<rect x="318.30" y="228.60" width="8.6" height="5.2" fill="#dd99ee" stroke="#000" stroke-width="1.3"/>
<text x="332.00" y="233.50" font-size="7.8" text-anchor="start" >EM (CD45RA-/CD62L-)</text>
<rect x="318.30" y="238.90" width="8.6" height="5.2" fill="#c8105a" stroke="#000" stroke-width="1.3"/>
<text x="332.00" y="243.80" font-size="7.8" text-anchor="start" >CM (CD45RA-/CD62L+)</text>
<rect x="318.30" y="248.60" width="8.6" height="5.2" fill="#a0c8f0" stroke="#000" stroke-width="1.3"/>
<text x="332.00" y="253.50" font-size="7.8" text-anchor="start" >Naïve (CD45RA+/CD62L+)</text>
<rect x="318.10" y="344.80" width="15.60" height="0.70" fill="#22dd22"/>
<rect x="318.10" y="345.50" width="15.60" height="1.00" fill="#dd99ee"/>
<rect x="318.10" y="346.50" width="15.60" height="1.00" fill="#c8105a"/>
<rect x="318.10" y="347.50" width="15.60" height="1.70" fill="#a0c8f0"/>
<line x1="318.10" y1="345.50" x2="333.70" y2="345.50" stroke="#000" stroke-width="1.7" />
<line x1="318.10" y1="346.50" x2="333.70" y2="346.50" stroke="#000" stroke-width="1.7" />
<line x1="318.10" y1="347.50" x2="333.70" y2="347.50" stroke="#000" stroke-width="1.7" />
<rect x="318.10" y="344.80" width="15.60" height="4.40" fill="none" stroke="#000" stroke-width="2"/>
<rect x="340.70" y="333.30" width="15.60" height="2.50" fill="#22dd22"/>
<rect x="340.70" y="335.80" width="15.60" height="5.70" fill="#dd99ee"/>
<rect x="340.70" y="341.50" width="15.60" height="4.30" fill="#c8105a"/>
<rect x="340.70" y="345.80" width="15.60" height="3.40" fill="#a0c8f0"/>
<line x1="340.70" y1="335.80" x2="356.30" y2="335.80" stroke="#000" stroke-width="1.7" />
<line x1="340.70" y1="341.50" x2="356.30" y2="341.50" stroke="#000" stroke-width="1.7" />
<line x1="340.70" y1="345.80" x2="356.30" y2="345.80" stroke="#000" stroke-width="1.7" />
<rect x="340.70" y="333.30" width="15.60" height="15.90" fill="none" stroke="#000" stroke-width="2"/>
<line x1="348.50" y1="330.40" x2="348.50" y2="333.30" stroke="#000" stroke-width="1.6" />
<line x1="344.50" y1="330.40" x2="352.50" y2="330.40" stroke="#000" stroke-width="2.0" />
<line x1="348.50" y1="334.50" x2="348.50" y2="335.80" stroke="#000" stroke-width="1.6" />
<line x1="344.50" y1="334.50" x2="352.50" y2="334.50" stroke="#000" stroke-width="2.0" />
<line x1="348.50" y1="340.00" x2="348.50" y2="341.50" stroke="#000" stroke-width="1.6" />
<line x1="344.50" y1="340.00" x2="352.50" y2="340.00" stroke="#000" stroke-width="2.0" />
<line x1="348.50" y1="344.00" x2="348.50" y2="345.80" stroke="#000" stroke-width="1.6" />
<line x1="344.50" y1="344.00" x2="352.50" y2="344.00" stroke="#000" stroke-width="2.0" />
<rect x="363.40" y="335.20" width="15.60" height="1.90" fill="#22dd22"/>
<rect x="363.40" y="337.10" width="15.60" height="2.50" fill="#dd99ee"/>
<rect x="363.40" y="339.60" width="15.60" height="5.20" fill="#c8105a"/>
<rect x="363.40" y="344.80" width="15.60" height="4.40" fill="#a0c8f0"/>
<line x1="363.40" y1="337.10" x2="379.00" y2="337.10" stroke="#000" stroke-width="1.7" />
<line x1="363.40" y1="339.60" x2="379.00" y2="339.60" stroke="#000" stroke-width="1.7" />
<line x1="363.40" y1="344.80" x2="379.00" y2="344.80" stroke="#000" stroke-width="1.7" />
<rect x="363.40" y="335.20" width="15.60" height="14.00" fill="none" stroke="#000" stroke-width="2"/>
<line x1="371.20" y1="333.50" x2="371.20" y2="335.20" stroke="#000" stroke-width="1.6" />
<line x1="367.20" y1="333.50" x2="375.20" y2="333.50" stroke="#000" stroke-width="2.0" />
<line x1="371.20" y1="336.00" x2="371.20" y2="337.10" stroke="#000" stroke-width="1.6" />
<line x1="367.20" y1="336.00" x2="375.20" y2="336.00" stroke="#000" stroke-width="2.0" />
<line x1="371.20" y1="338.50" x2="371.20" y2="339.60" stroke="#000" stroke-width="1.6" />
<line x1="367.20" y1="338.50" x2="375.20" y2="338.50" stroke="#000" stroke-width="2.0" />
<line x1="371.20" y1="343.00" x2="371.20" y2="344.80" stroke="#000" stroke-width="1.6" />
<line x1="367.20" y1="343.00" x2="375.20" y2="343.00" stroke="#000" stroke-width="2.0" />
<rect x="386.40" y="323.00" width="15.60" height="3.80" fill="#22dd22"/>
<rect x="386.40" y="326.80" width="15.60" height="3.80" fill="#dd99ee"/>
<rect x="386.40" y="330.60" width="15.60" height="9.20" fill="#c8105a"/>
<rect x="386.40" y="339.80" width="15.60" height="9.40" fill="#a0c8f0"/>
<line x1="386.40" y1="326.80" x2="402.00" y2="326.80" stroke="#000" stroke-width="1.7" />
<line x1="386.40" y1="330.60" x2="402.00" y2="330.60" stroke="#000" stroke-width="1.7" />
<line x1="386.40" y1="339.80" x2="402.00" y2="339.80" stroke="#000" stroke-width="1.7" />
<rect x="386.40" y="323.00" width="15.60" height="26.20" fill="none" stroke="#000" stroke-width="2"/>
<line x1="394.20" y1="321.60" x2="394.20" y2="323.00" stroke="#000" stroke-width="1.6" />
<line x1="390.20" y1="321.60" x2="398.20" y2="321.60" stroke="#000" stroke-width="2.0" />
<line x1="394.20" y1="324.80" x2="394.20" y2="326.80" stroke="#000" stroke-width="1.6" />
<line x1="390.20" y1="324.80" x2="398.20" y2="324.80" stroke="#000" stroke-width="2.0" />
<line x1="394.20" y1="328.60" x2="394.20" y2="330.60" stroke="#000" stroke-width="1.6" />
<line x1="390.20" y1="328.60" x2="398.20" y2="328.60" stroke="#000" stroke-width="2.0" />
<line x1="394.20" y1="336.00" x2="394.20" y2="339.80" stroke="#000" stroke-width="1.6" />
<line x1="390.20" y1="336.00" x2="398.20" y2="336.00" stroke="#000" stroke-width="2.0" />
<rect x="409.20" y="312.70" width="15.60" height="3.50" fill="#22dd22"/>
<rect x="409.20" y="316.20" width="15.60" height="10.30" fill="#dd99ee"/>
<rect x="409.20" y="326.50" width="15.60" height="10.40" fill="#c8105a"/>
<rect x="409.20" y="336.90" width="15.60" height="12.30" fill="#a0c8f0"/>
<line x1="409.20" y1="316.20" x2="424.80" y2="316.20" stroke="#000" stroke-width="1.7" />
<line x1="409.20" y1="326.50" x2="424.80" y2="326.50" stroke="#000" stroke-width="1.7" />
<line x1="409.20" y1="336.90" x2="424.80" y2="336.90" stroke="#000" stroke-width="1.7" />
<rect x="409.20" y="312.70" width="15.60" height="36.50" fill="none" stroke="#000" stroke-width="2"/>
<line x1="417.00" y1="311.30" x2="417.00" y2="312.70" stroke="#000" stroke-width="1.6" />
<line x1="413.00" y1="311.30" x2="421.00" y2="311.30" stroke="#000" stroke-width="2.0" />
<line x1="417.00" y1="315.00" x2="417.00" y2="316.20" stroke="#000" stroke-width="1.6" />
<line x1="413.00" y1="315.00" x2="421.00" y2="315.00" stroke="#000" stroke-width="2.0" />
<line x1="417.00" y1="323.00" x2="417.00" y2="326.50" stroke="#000" stroke-width="1.6" />
<line x1="413.00" y1="323.00" x2="421.00" y2="323.00" stroke="#000" stroke-width="2.0" />
<line x1="417.00" y1="334.00" x2="417.00" y2="336.90" stroke="#000" stroke-width="1.6" />
<line x1="413.00" y1="334.00" x2="421.00" y2="334.00" stroke="#000" stroke-width="2.0" />
<rect x="432.00" y="303.50" width="15.60" height="5.70" fill="#22dd22"/>
<rect x="432.00" y="309.20" width="15.60" height="7.00" fill="#dd99ee"/>
<rect x="432.00" y="316.20" width="15.60" height="11.00" fill="#c8105a"/>
<rect x="432.00" y="327.20" width="15.60" height="22.00" fill="#a0c8f0"/>
<line x1="432.00" y1="309.20" x2="447.60" y2="309.20" stroke="#000" stroke-width="1.7" />
<line x1="432.00" y1="316.20" x2="447.60" y2="316.20" stroke="#000" stroke-width="1.7" />
<line x1="432.00" y1="327.20" x2="447.60" y2="327.20" stroke="#000" stroke-width="1.7" />
<rect x="432.00" y="303.50" width="15.60" height="45.70" fill="none" stroke="#000" stroke-width="2"/>
<line x1="439.80" y1="301.90" x2="439.80" y2="303.50" stroke="#000" stroke-width="1.6" />
<line x1="435.80" y1="301.90" x2="443.80" y2="301.90" stroke="#000" stroke-width="2.0" />
<line x1="439.80" y1="306.50" x2="439.80" y2="309.20" stroke="#000" stroke-width="1.6" />
<line x1="435.80" y1="306.50" x2="443.80" y2="306.50" stroke="#000" stroke-width="2.0" />
<line x1="439.80" y1="313.50" x2="439.80" y2="316.20" stroke="#000" stroke-width="1.6" />
<line x1="435.80" y1="313.50" x2="443.80" y2="313.50" stroke="#000" stroke-width="2.0" />
<line x1="439.80" y1="323.00" x2="439.80" y2="327.20" stroke="#000" stroke-width="1.6" />
<line x1="435.80" y1="323.00" x2="443.80" y2="323.00" stroke="#000" stroke-width="2.0" />
<rect x="454.80" y="303.50" width="15.60" height="6.20" fill="#22dd22"/>
<rect x="454.80" y="309.70" width="15.60" height="7.60" fill="#dd99ee"/>
<rect x="454.80" y="317.30" width="15.60" height="10.40" fill="#c8105a"/>
<rect x="454.80" y="327.70" width="15.60" height="21.50" fill="#a0c8f0"/>
<line x1="454.80" y1="309.70" x2="470.40" y2="309.70" stroke="#000" stroke-width="1.7" />
<line x1="454.80" y1="317.30" x2="470.40" y2="317.30" stroke="#000" stroke-width="1.7" />
<line x1="454.80" y1="327.70" x2="470.40" y2="327.70" stroke="#000" stroke-width="1.7" />
<rect x="454.80" y="303.50" width="15.60" height="45.70" fill="none" stroke="#000" stroke-width="2"/>
<line x1="462.60" y1="301.90" x2="462.60" y2="303.50" stroke="#000" stroke-width="1.6" />
<line x1="458.60" y1="301.90" x2="466.60" y2="301.90" stroke="#000" stroke-width="2.0" />
<line x1="462.60" y1="306.50" x2="462.60" y2="309.70" stroke="#000" stroke-width="1.6" />
<line x1="458.60" y1="306.50" x2="466.60" y2="306.50" stroke="#000" stroke-width="2.0" />
<line x1="462.60" y1="314.00" x2="462.60" y2="317.30" stroke="#000" stroke-width="1.6" />
<line x1="458.60" y1="314.00" x2="466.60" y2="314.00" stroke="#000" stroke-width="2.0" />
<line x1="462.60" y1="323.00" x2="462.60" y2="327.70" stroke="#000" stroke-width="1.6" />
<line x1="458.60" y1="323.00" x2="466.60" y2="323.00" stroke="#000" stroke-width="2.0" />
<rect x="477.60" y="288.90" width="15.60" height="7.60" fill="#22dd22"/>
<rect x="477.60" y="296.50" width="15.60" height="13.90" fill="#dd99ee"/>
<rect x="477.60" y="310.40" width="15.60" height="12.70" fill="#c8105a"/>
<rect x="477.60" y="323.10" width="15.60" height="26.10" fill="#a0c8f0"/>
<line x1="477.60" y1="296.50" x2="493.20" y2="296.50" stroke="#000" stroke-width="1.7" />
<line x1="477.60" y1="310.40" x2="493.20" y2="310.40" stroke="#000" stroke-width="1.7" />
<line x1="477.60" y1="323.10" x2="493.20" y2="323.10" stroke="#000" stroke-width="1.7" />
<rect x="477.60" y="288.90" width="15.60" height="60.30" fill="none" stroke="#000" stroke-width="2"/>
<line x1="485.40" y1="286.20" x2="485.40" y2="288.90" stroke="#000" stroke-width="1.6" />
<line x1="481.40" y1="286.20" x2="489.40" y2="286.20" stroke="#000" stroke-width="2.0" />
<line x1="485.40" y1="293.00" x2="485.40" y2="296.50" stroke="#000" stroke-width="1.6" />
<line x1="481.40" y1="293.00" x2="489.40" y2="293.00" stroke="#000" stroke-width="2.0" />
<line x1="485.40" y1="306.00" x2="485.40" y2="310.40" stroke="#000" stroke-width="1.6" />
<line x1="481.40" y1="306.00" x2="489.40" y2="306.00" stroke="#000" stroke-width="2.0" />
<line x1="485.40" y1="318.00" x2="485.40" y2="323.10" stroke="#000" stroke-width="1.6" />
<line x1="481.40" y1="318.00" x2="489.40" y2="318.00" stroke="#000" stroke-width="2.0" />
<rect x="500.20" y="255.00" width="15.60" height="25.40" fill="#22dd22"/>
<rect x="500.20" y="280.40" width="15.60" height="14.50" fill="#dd99ee"/>
<rect x="500.20" y="294.90" width="15.60" height="17.10" fill="#c8105a"/>
<rect x="500.20" y="312.00" width="15.60" height="37.20" fill="#a0c8f0"/>
<line x1="500.20" y1="280.40" x2="515.80" y2="280.40" stroke="#000" stroke-width="1.7" />
<line x1="500.20" y1="294.90" x2="515.80" y2="294.90" stroke="#000" stroke-width="1.7" />
<line x1="500.20" y1="312.00" x2="515.80" y2="312.00" stroke="#000" stroke-width="1.7" />
<rect x="500.20" y="255.00" width="15.60" height="94.20" fill="none" stroke="#000" stroke-width="2"/>
<line x1="508.00" y1="245.80" x2="508.00" y2="255.00" stroke="#000" stroke-width="1.6" />
<line x1="504.00" y1="245.80" x2="512.00" y2="245.80" stroke="#000" stroke-width="2.0" />
<line x1="508.00" y1="276.50" x2="508.00" y2="280.40" stroke="#000" stroke-width="1.6" />
<line x1="504.00" y1="276.50" x2="512.00" y2="276.50" stroke="#000" stroke-width="2.0" />
<line x1="508.00" y1="290.30" x2="508.00" y2="294.90" stroke="#000" stroke-width="1.6" />
<line x1="504.00" y1="290.30" x2="512.00" y2="290.30" stroke="#000" stroke-width="2.0" />
<line x1="508.00" y1="306.90" x2="508.00" y2="312.00" stroke="#000" stroke-width="1.6" />
<line x1="504.00" y1="306.90" x2="512.00" y2="306.90" stroke="#000" stroke-width="2.0" />
<text x="0.50" y="401.30" font-size="16.5" text-anchor="start" >E</text>
<text x="128.10" y="409.10" font-size="11.2" text-anchor="start" >NK cells</text>
<text x="0" y="0" font-size="10" text-anchor="middle" transform="translate(15.00,470.00) rotate(-90)">Counts / µL</text>
<line x1="43.50" y1="408.60" x2="43.50" y2="538.70" stroke="#000" stroke-width="1.3" />
<line x1="40.30" y1="409.20" x2="43.50" y2="409.20" stroke="#000" stroke-width="1.3" />
<text x="39.90" y="412.00" font-size="9.4" text-anchor="end" >900</text>
<line x1="40.30" y1="451.90" x2="43.50" y2="451.90" stroke="#000" stroke-width="1.3" />
<text x="39.90" y="454.70" font-size="9.4" text-anchor="end" >600</text>
<line x1="40.30" y1="494.60" x2="43.50" y2="494.60" stroke="#000" stroke-width="1.3" />
<text x="39.90" y="497.40" font-size="9.4" text-anchor="end" >300</text>
<line x1="40.30" y1="538.10" x2="43.50" y2="538.10" stroke="#000" stroke-width="1.3" />
<text x="39.90" y="540.90" font-size="9.4" text-anchor="end" >0</text>
<line x1="42.80" y1="538.10" x2="221.50" y2="538.10" stroke="#000" stroke-width="1.3" />
<line x1="227.70" y1="538.10" x2="249.70" y2="538.10" stroke="#000" stroke-width="1.3" />
<line x1="221.50" y1="536.30" x2="221.50" y2="539.90" stroke="#000" stroke-width="1.1" />
<line x1="227.70" y1="536.30" x2="227.70" y2="539.90" stroke="#000" stroke-width="1.1" />
<line x1="56.40" y1="538.10" x2="56.40" y2="540.50" stroke="#000" stroke-width="1.2" />
<text x="56.40" y="550.20" font-size="9.4" text-anchor="middle" >0</text>
<line x1="69.00" y1="538.10" x2="69.00" y2="540.50" stroke="#000" stroke-width="1.2" />
<text x="69.00" y="550.20" font-size="9.4" text-anchor="middle" >1</text>
<line x1="81.30" y1="538.10" x2="81.30" y2="540.50" stroke="#000" stroke-width="1.2" />
<text x="81.30" y="550.20" font-size="9.4" text-anchor="middle" >2</text>
<line x1="94.10" y1="538.10" x2="94.10" y2="540.50" stroke="#000" stroke-width="1.2" />
<text x="94.10" y="550.20" font-size="9.4" text-anchor="middle" >3</text>
<line x1="106.60" y1="538.10" x2="106.60" y2="540.50" stroke="#000" stroke-width="1.2" />
<text x="106.60" y="550.20" font-size="9.4" text-anchor="middle" >4</text>
<line x1="132.30" y1="538.10" x2="132.30" y2="540.50" stroke="#000" stroke-width="1.2" />
<text x="132.30" y="550.20" font-size="9.4" text-anchor="middle" >6</text>
<line x1="170.50" y1="538.10" x2="170.50" y2="540.50" stroke="#000" stroke-width="1.2" />
<text x="170.50" y="550.20" font-size="9.4" text-anchor="middle" >9</text>
<line x1="208.50" y1="538.10" x2="208.50" y2="540.50" stroke="#000" stroke-width="1.2" />
<text x="208.50" y="550.20" font-size="9.4" text-anchor="middle" >12</text>
<line x1="245.90" y1="538.10" x2="245.90" y2="540.50" stroke="#000" stroke-width="1.2" />
<text x="245.90" y="550.20" font-size="9.4" text-anchor="middle" >24</text>
<text x="152.90" y="567.20" font-size="10.2" text-anchor="middle" >Month after T-cell infusion</text>
<line x1="58.60" y1="488.00" x2="58.60" y2="511.80" stroke="#111" stroke-width="1.3" />
<line x1="55.50" y1="488.00" x2="61.70" y2="488.00" stroke="#111" stroke-width="1.3" />
<line x1="55.50" y1="511.80" x2="61.70" y2="511.80" stroke="#111" stroke-width="1.3" />
<line x1="71.10" y1="434.60" x2="71.10" y2="483.30" stroke="#111" stroke-width="1.3" />
<line x1="68.00" y1="434.60" x2="74.20" y2="434.60" stroke="#111" stroke-width="1.3" />
<line x1="68.00" y1="483.30" x2="74.20" y2="483.30" stroke="#111" stroke-width="1.3" />
<line x1="83.80" y1="447.80" x2="83.80" y2="481.90" stroke="#111" stroke-width="1.3" />
<line x1="80.70" y1="447.80" x2="86.90" y2="447.80" stroke="#111" stroke-width="1.3" />
<line x1="80.70" y1="481.90" x2="86.90" y2="481.90" stroke="#111" stroke-width="1.3" />
<line x1="96.50" y1="430.00" x2="96.50" y2="464.20" stroke="#111" stroke-width="1.3" />
<line x1="93.40" y1="430.00" x2="99.60" y2="430.00" stroke="#111" stroke-width="1.3" />
<line x1="93.40" y1="464.20" x2="99.60" y2="464.20" stroke="#111" stroke-width="1.3" />
<line x1="109.20" y1="424.90" x2="109.20" y2="478.00" stroke="#111" stroke-width="1.3" />
<line x1="106.10" y1="424.90" x2="112.30" y2="424.90" stroke="#111" stroke-width="1.3" />
<line x1="106.10" y1="478.00" x2="112.30" y2="478.00" stroke="#111" stroke-width="1.3" />
<line x1="134.40" y1="468.20" x2="134.40" y2="491.90" stroke="#111" stroke-width="1.3" />
<line x1="131.30" y1="468.20" x2="137.50" y2="468.20" stroke="#111" stroke-width="1.3" />
<line x1="131.30" y1="491.90" x2="137.50" y2="491.90" stroke="#111" stroke-width="1.3" />
<line x1="172.50" y1="485.70" x2="172.50" y2="509.40" stroke="#111" stroke-width="1.3" />
<line x1="169.40" y1="485.70" x2="175.60" y2="485.70" stroke="#111" stroke-width="1.3" />
<line x1="169.40" y1="509.40" x2="175.60" y2="509.40" stroke="#111" stroke-width="1.3" />
<line x1="210.70" y1="471.30" x2="210.70" y2="496.20" stroke="#111" stroke-width="1.3" />
<line x1="207.60" y1="471.30" x2="213.80" y2="471.30" stroke="#111" stroke-width="1.3" />
<line x1="207.60" y1="496.20" x2="213.80" y2="496.20" stroke="#111" stroke-width="1.3" />
<line x1="246.80" y1="442.50" x2="246.80" y2="504.20" stroke="#111" stroke-width="1.3" />
<line x1="243.70" y1="442.50" x2="249.90" y2="442.50" stroke="#111" stroke-width="1.3" />
<line x1="243.70" y1="504.20" x2="249.90" y2="504.20" stroke="#111" stroke-width="1.3" />
<polyline points="58.60,499.80 71.10,459.50 83.80,465.30 96.50,446.80 109.20,451.50 134.40,479.90 172.50,497.40 210.70,484.20" fill="none" stroke="#000" stroke-width="2.3" stroke-linejoin="round" />
<polyline points="210.70,484.20 222.60,480.64" fill="none" stroke="#000" stroke-width="2.3" stroke-linejoin="round" />
<polyline points="226.60,479.44 246.80,473.40" fill="none" stroke="#000" stroke-width="2.3" stroke-linejoin="round" />
<circle cx="58.60" cy="499.80" r="3.1" fill="#000"/>
<circle cx="71.10" cy="459.50" r="3.1" fill="#000"/>
<circle cx="83.80" cy="465.30" r="3.1" fill="#000"/>
<circle cx="96.50" cy="446.80" r="3.1" fill="#000"/>
<circle cx="109.20" cy="451.50" r="3.1" fill="#000"/>
<circle cx="134.40" cy="479.90" r="3.1" fill="#000"/>
<circle cx="172.50" cy="497.40" r="3.1" fill="#000"/>
<circle cx="210.70" cy="484.20" r="3.1" fill="#000"/>
<circle cx="246.80" cy="473.40" r="3.1" fill="#000"/>
<text x="264.50" y="401.30" font-size="16.5" text-anchor="start" >F</text>
<text x="393.50" y="409.10" font-size="11" text-anchor="start" >B cells</text>
<text x="0" y="0" font-size="10" text-anchor="middle" transform="translate(282.50,471.30) rotate(-90)">Counts / µL</text>
<line x1="312.40" y1="408.20" x2="312.40" y2="537.20" stroke="#000" stroke-width="1.3" />
<line x1="309.20" y1="408.80" x2="312.40" y2="408.80" stroke="#000" stroke-width="1.3" />
<text x="308.90" y="411.60" font-size="9.4" text-anchor="end" >900</text>
<line x1="309.20" y1="450.80" x2="312.40" y2="450.80" stroke="#000" stroke-width="1.3" />
<text x="308.90" y="453.60" font-size="9.4" text-anchor="end" >600</text>
<line x1="309.20" y1="493.90" x2="312.40" y2="493.90" stroke="#000" stroke-width="1.3" />
<text x="308.90" y="496.70" font-size="9.4" text-anchor="end" >300</text>
<line x1="309.20" y1="536.60" x2="312.40" y2="536.60" stroke="#000" stroke-width="1.3" />
<text x="308.90" y="539.40" font-size="9.4" text-anchor="end" >0</text>
<line x1="311.70" y1="536.60" x2="489.80" y2="536.60" stroke="#000" stroke-width="1.3" />
<line x1="496.20" y1="536.60" x2="518.50" y2="536.60" stroke="#000" stroke-width="1.3" />
<line x1="489.80" y1="534.80" x2="489.80" y2="538.40" stroke="#000" stroke-width="1.1" />
<line x1="496.20" y1="534.80" x2="496.20" y2="538.40" stroke="#000" stroke-width="1.1" />
<line x1="324.50" y1="536.60" x2="324.50" y2="539.00" stroke="#000" stroke-width="1.2" />
<text x="324.50" y="549.20" font-size="9.4" text-anchor="middle" >0</text>
<line x1="337.00" y1="536.60" x2="337.00" y2="539.00" stroke="#000" stroke-width="1.2" />
<text x="337.00" y="549.20" font-size="9.4" text-anchor="middle" >1</text>
<line x1="349.50" y1="536.60" x2="349.50" y2="539.00" stroke="#000" stroke-width="1.2" />
<text x="349.50" y="549.20" font-size="9.4" text-anchor="middle" >2</text>
<line x1="362.50" y1="536.60" x2="362.50" y2="539.00" stroke="#000" stroke-width="1.2" />
<text x="362.50" y="549.20" font-size="9.4" text-anchor="middle" >3</text>
<line x1="375.00" y1="536.60" x2="375.00" y2="539.00" stroke="#000" stroke-width="1.2" />
<text x="375.00" y="549.20" font-size="9.4" text-anchor="middle" >4</text>
<line x1="400.60" y1="536.60" x2="400.60" y2="539.00" stroke="#000" stroke-width="1.2" />
<text x="400.60" y="549.20" font-size="9.4" text-anchor="middle" >6</text>
<line x1="438.50" y1="536.60" x2="438.50" y2="539.00" stroke="#000" stroke-width="1.2" />
<text x="438.50" y="549.20" font-size="9.4" text-anchor="middle" >9</text>
<line x1="476.60" y1="536.60" x2="476.60" y2="539.00" stroke="#000" stroke-width="1.2" />
<text x="476.60" y="549.20" font-size="9.4" text-anchor="middle" >12</text>
<line x1="514.00" y1="536.60" x2="514.00" y2="539.00" stroke="#000" stroke-width="1.2" />
<text x="514.00" y="549.20" font-size="9.4" text-anchor="middle" >24</text>
<text x="422.30" y="566.80" font-size="10.2" text-anchor="middle" >Month after T-cell infusion</text>
<line x1="324.60" y1="500.40" x2="324.60" y2="518.20" stroke="#111" stroke-width="1.3" />
<line x1="321.50" y1="500.40" x2="327.70" y2="500.40" stroke="#111" stroke-width="1.3" />
<line x1="321.50" y1="518.20" x2="327.70" y2="518.20" stroke="#111" stroke-width="1.3" />
<line x1="337.30" y1="501.50" x2="337.30" y2="511.50" stroke="#111" stroke-width="1.3" />
<line x1="334.20" y1="501.50" x2="340.40" y2="501.50" stroke="#111" stroke-width="1.3" />
<line x1="334.20" y1="511.50" x2="340.40" y2="511.50" stroke="#111" stroke-width="1.3" />
<line x1="350.00" y1="489.30" x2="350.00" y2="507.30" stroke="#111" stroke-width="1.3" />
<line x1="346.90" y1="489.30" x2="353.10" y2="489.30" stroke="#111" stroke-width="1.3" />
<line x1="346.90" y1="507.30" x2="353.10" y2="507.30" stroke="#111" stroke-width="1.3" />
<line x1="362.70" y1="493.90" x2="362.70" y2="508.00" stroke="#111" stroke-width="1.3" />
<line x1="359.60" y1="493.90" x2="365.80" y2="493.90" stroke="#111" stroke-width="1.3" />
<line x1="359.60" y1="508.00" x2="365.80" y2="508.00" stroke="#111" stroke-width="1.3" />
<line x1="375.40" y1="498.80" x2="375.40" y2="507.80" stroke="#111" stroke-width="1.3" />
<line x1="372.30" y1="498.80" x2="378.50" y2="498.80" stroke="#111" stroke-width="1.3" />
<line x1="372.30" y1="507.80" x2="378.50" y2="507.80" stroke="#111" stroke-width="1.3" />
<line x1="400.90" y1="454.90" x2="400.90" y2="486.80" stroke="#111" stroke-width="1.3" />
<line x1="397.80" y1="454.90" x2="404.00" y2="454.90" stroke="#111" stroke-width="1.3" />
<line x1="397.80" y1="486.80" x2="404.00" y2="486.80" stroke="#111" stroke-width="1.3" />
<line x1="438.40" y1="457.80" x2="438.40" y2="488.00" stroke="#111" stroke-width="1.3" />
<line x1="435.30" y1="457.80" x2="441.50" y2="457.80" stroke="#111" stroke-width="1.3" />
<line x1="435.30" y1="488.00" x2="441.50" y2="488.00" stroke="#111" stroke-width="1.3" />
<line x1="476.00" y1="444.00" x2="476.00" y2="484.20" stroke="#111" stroke-width="1.3" />
<line x1="472.90" y1="444.00" x2="479.10" y2="444.00" stroke="#111" stroke-width="1.3" />
<line x1="472.90" y1="484.20" x2="479.10" y2="484.20" stroke="#111" stroke-width="1.3" />
<line x1="514.70" y1="416.10" x2="514.70" y2="463.10" stroke="#111" stroke-width="1.3" />
<line x1="511.60" y1="416.10" x2="517.80" y2="416.10" stroke="#111" stroke-width="1.3" />
<line x1="511.60" y1="463.10" x2="517.80" y2="463.10" stroke="#111" stroke-width="1.3" />
<polyline points="324.60,509.20 337.30,506.60 350.00,498.50 362.70,500.90 375.40,503.90 400.90,470.80 438.40,472.80 476.00,464.00" fill="none" stroke="#000" stroke-width="2.3" stroke-linejoin="round" />
<polyline points="476.00,464.00 490.50,454.86" fill="none" stroke="#000" stroke-width="2.3" stroke-linejoin="round" />
<polyline points="495.50,451.71 514.70,439.60" fill="none" stroke="#000" stroke-width="2.3" stroke-linejoin="round" />
<circle cx="324.60" cy="509.20" r="3.1" fill="#000"/>
<circle cx="337.30" cy="506.60" r="3.1" fill="#000"/>
<circle cx="350.00" cy="498.50" r="3.1" fill="#000"/>
<circle cx="362.70" cy="500.90" r="3.1" fill="#000"/>
<circle cx="375.40" cy="503.90" r="3.1" fill="#000"/>
<circle cx="400.90" cy="470.80" r="3.1" fill="#000"/>
<circle cx="438.40" cy="472.80" r="3.1" fill="#000"/>
<circle cx="476.00" cy="464.00" r="3.1" fill="#000"/>
<circle cx="514.70" cy="439.60" r="3.1" fill="#000"/>
</g></svg>
</body></html>
